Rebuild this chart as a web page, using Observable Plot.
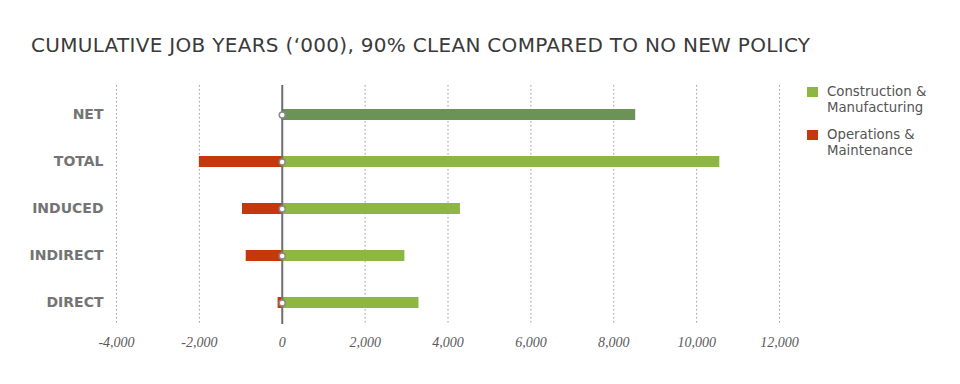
<!DOCTYPE html>
<html>
<head>
<meta charset="utf-8">
<script src="https://cdn.jsdelivr.net/npm/d3@7"></script>
<script src="https://cdn.jsdelivr.net/npm/@observablehq/plot@0.6"></script>
<style>
  html, body { margin: 0; padding: 0; background: #fff; }
  #wrap { position: relative; width: 960px; height: 384px; overflow: hidden; }
  #title { position: absolute; left: 31px; top: 33px; font-family: "DejaVu Sans", sans-serif; font-size: 20px; color: #3a3a3a; white-space: nowrap; letter-spacing: 0.3px; }
  #chart { position: absolute; left: 0; top: 70px; }
  #legend { position: absolute; left: 807px; top: 84px; font-family: "DejaVu Sans", sans-serif; font-size: 13.3px; color: #555; line-height: 16px; }
  .item { position: relative; padding-left: 20px; margin-bottom: 11px; }
  .sw { position: absolute; left: 0; top: 3px; width: 11px; height: 10px; }
</style>
</head>
<body>
<div id="wrap">
  <div id="title">CUMULATIVE JOB YEARS (‘000), 90% CLEAN COMPARED TO NO NEW POLICY</div>
  <div id="chart"></div>
  <div id="legend"></div>
</div>
<script>
const categories = ["NET", "TOTAL", "INDUCED", "INDIRECT", "DIRECT"];
const constructionValues = [8530, 10560, 4300, 2960, 3300];
const operationsValues = [null, -2000, -960, -870, -100];
const seriesNames = ["Construction & Manufacturing", "Operations & Maintenance"];
const legendLines = [["Construction &", "Manufacturing"], ["Operations &", "Maintenance"]];
const seriesColors = ["#8db643", "#c5380c"];
const netColor = "#6a9355";
const xTicks = [-4000, -2000, 0, 2000, 4000, 6000, 8000, 10000, 12000];

const rows = [];
categories.forEach((c, i) => {
  rows.push({cat: c, series: seriesNames[0], value: constructionValues[i],
             color: c === "NET" ? netColor : seriesColors[0]});
  if (operationsValues[i] != null)
    rows.push({cat: c, series: seriesNames[1], value: operationsValues[i], color: seriesColors[1]});
});

const fmt = d3.format(",");
const plot = Plot.plot({
  width: 960,
  height: 300,
  marginLeft: 116,
  marginRight: 181,
  marginTop: 15,
  marginBottom: 46,
  style: {background: "transparent", overflow: "visible"},
  x: {domain: [-4000, 12000]},
  y: {domain: categories, range: [18, 258], paddingInner: 0.77, paddingOuter: 0.41},
  marks: [
    Plot.ruleX(xTicks.filter(d => d !== 0), {stroke: "#9a9a9a", strokeWidth: 1, strokeDasharray: "1.5,2.5"}),
    Plot.barX(rows, {x1: 0, x2: "value", y: "cat", fill: "color"}),
    Plot.ruleX([0], {stroke: "#6e6e6e", strokeWidth: 2}),
    Plot.dot(categories, {x: () => 0, y: d => d, r: 3, fill: "white", stroke: "#8a8a8a", strokeWidth: 1.5}),
    Plot.axisX({ticks: xTicks, tickFormat: d => fmt(d).replace("\u2212", "-"), tickSize: 0, tickPadding: 13,
      fontFamily: "Liberation Serif", fontStyle: "italic", fontSize: 14, fill: "#5a5a5a", label: null}),
    Plot.axisY({tickSize: 0, tickPadding: 13, fontFamily: "DejaVu Sans", fontSize: 14, fontWeight: 600, fill: "#747474", label: null})
  ]
});
document.getElementById("chart").appendChild(plot);

const legend = document.getElementById("legend");
seriesNames.forEach((s, i) => {
  const item = document.createElement("div");
  item.className = "item";
  const sw = document.createElement("span");
  sw.className = "sw";
  sw.style.background = seriesColors[i];
  item.appendChild(sw);
  legendLines[i].forEach(l => {
    const d = document.createElement("div");
    d.textContent = l;
    item.appendChild(d);
  });
  legend.appendChild(item);
});
</script>
</body>
</html>
